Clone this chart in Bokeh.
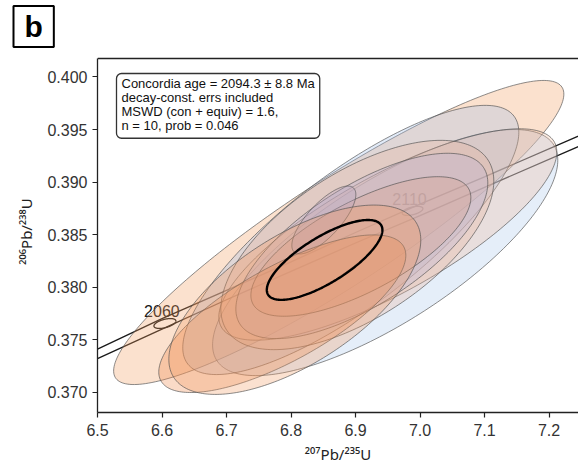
import numpy as np
from bokeh.plotting import figure
from bokeh.models import Range1d, Label, Title, FixedTicker, NumeralTickFormatter
from bokeh.embed import file_html
from bokeh.resources import INLINE
from bokeh.core.properties import value

FONT = "Liberation Sans"
SUP_FONT = "Noto Sans"

# Analyses: centre (207Pb/235U, 206Pb/238U), 2-sigma half-extents and error correlation
ell_x = [6.874, 6.9460, 6.8927, 6.9501, 6.9028, 6.9098, 6.9083, 6.8509, 6.7865, 6.8059]
ell_y = [0.38520, 0.38329, 0.38449, 0.38501, 0.38401, 0.38392, 0.38387, 0.38639, 0.37747, 0.37880]
ell_sx = [0.3490, 0.2676, 0.2605, 0.2620, 0.2116, 0.1953, 0.1705, 0.0496, 0.1915, 0.1953]
ell_sy = [0.01447, 0.01171, 0.01281, 0.01006, 0.00996, 0.00882, 0.00664, 0.00323, 0.00750, 0.00901]
ell_rho = [0.91, 0.75, 0.80, 0.78, 0.61, 0.68, 0.70, 0.75, 0.74, 0.63]
ell_fill = ["#f39a5e", "#a9c6ec", "#9fbde8", "#efbb9c", "#e9b39a", "#b9b3d6",
            "#dba08a", "#b7a3c0", "#ef8545", "#f29a62"]

# Concordia age ellipse
conc_age_x, conc_age_y = 6.8521, 0.38259
conc_age_sx, conc_age_sy, conc_age_rho = 0.0896, 0.00380, 0.75

# Concordia band (decay-constant errors), upper and lower bounds
band_x = [6.50, 6.60, 6.70, 6.80, 6.90, 7.00, 7.10, 7.25]
band_upper = [0.3741, 0.3770, 0.3797, 0.3824, 0.3852, 0.3879, 0.3905, 0.3945]
band_lower = [0.3732, 0.3760, 0.3788, 0.3815, 0.3842, 0.3868, 0.3895, 0.3935]

# Age markers on the concordia (Ma)
age_labels = ["2060", "2110"]
age_x = [6.6045, 6.9884]
age_y = [0.37654, 0.38726]
age_sx = [0.017, 0.016]
age_sy = [0.00047, 0.00043]
age_rho = [0.5, 0.5]

x_ticks = [6.5, 6.6, 6.7, 6.8, 6.9, 7.0, 7.1, 7.2]
y_ticks = [0.370, 0.375, 0.380, 0.385, 0.390, 0.395, 0.400]

# axis limits of the drawn box
x_lo, x_hi = 6.5, 7.2457
y_lo, y_hi = 0.36807, 0.40176

info_text = ("Concordia age = 2094.3 \u00b1 8.8 Ma\n"
             "decay-const. errs included\n"
             "MSWD (con + equiv) = 1.6,\n"
             " n = 10, prob = 0.046")


def ellipse_outline(cx, cy, sx, sy, rho, n=240):
    t = np.linspace(0, 2 * np.pi, n)
    xs = cx + sx * np.cos(t)
    ys = cy + sy * (rho * np.cos(t) + np.sqrt(1 - rho ** 2) * np.sin(t))
    return xs, ys


# headroom above the box so its top edge is drawn well inside the frame
y_pad = 0.00076
p = figure(width=578, height=466,
           x_range=Range1d(x_lo, x_hi), y_range=Range1d(y_lo, y_hi + y_pad),
           output_backend="svg", toolbar_location=None,
           min_border_left=97, min_border_right=0, min_border_top=50, min_border_bottom=53)
p.background_fill_color = "white"
p.border_fill_color = "white"
p.outline_line_color = None
p.xgrid.visible = False
p.ygrid.visible = False

for ax in (p.xaxis[0], p.yaxis[0]):
    ax.axis_line_color = "#222222"
    ax.axis_line_width = 1.3
    ax.major_tick_line_color = "#222222"
    ax.major_tick_line_width = 1.2
    ax.major_tick_out = 5
    ax.major_tick_in = 0
    ax.minor_tick_line_color = None
    ax.major_label_text_font = FONT
    ax.major_label_text_font_size = "16px"
    ax.major_label_text_color = "#333333"
    ax.axis_label_text_font = SUP_FONT
    ax.axis_label_text_font_size = "15px"
    ax.axis_label_text_font_style = "normal"
    ax.axis_label_text_color = "#222222"

p.yaxis.bounds = (y_lo, y_hi)
p.xaxis.ticker = FixedTicker(ticks=x_ticks)
p.yaxis.ticker = FixedTicker(ticks=y_ticks)
p.xaxis.formatter = NumeralTickFormatter(format="0.0")
p.yaxis.formatter = NumeralTickFormatter(format="0.000")
p.xaxis.major_label_standoff = 6
p.yaxis.major_label_standoff = 5
p.xaxis.axis_label = "\u00b2\u2070\u2077Pb/\u00b2\u00b3\u2075U"
p.yaxis.axis_label = "\u00b2\u2070\u2076Pb/\u00b2\u00b3\u2078U"
p.xaxis.axis_label_standoff = 5
p.yaxis.axis_label_standoff = 8

# top edge of the box
p.line([x_lo, x_hi], [y_hi, y_hi], line_color="#222222", line_width=1.3)

# concordia band and age markers sit beneath the analyses
p.line(band_x, band_upper, line_color="#1a1a1a", line_width=1.3)
p.line(band_x, band_lower, line_color="#1a1a1a", line_width=1.3)
for i in range(len(age_x)):
    xs, ys = ellipse_outline(age_x[i], age_y[i], age_sx[i], age_sy[i], age_rho[i])
    p.line(xs, ys, line_color="#1a1a1a", line_width=1.3)
p.text(x=age_x, y=age_y, text=age_labels, text_font=value(FONT), text_font_size="16px",
       text_color="#1a1a1a", text_align="center", text_baseline="bottom",
       x_offset=-3, y_offset=-6)

# analysis ellipses
pxs, pys = [], []
for i in range(len(ell_x)):
    xs, ys = ellipse_outline(ell_x[i], ell_y[i], ell_sx[i], ell_sy[i], ell_rho[i])
    pxs.append(xs)
    pys.append(ys)
p.patches(pxs, pys, fill_color=ell_fill, fill_alpha=0.3,
          line_color="#505050", line_alpha=0.65, line_width=1.0)

# concordia age ellipse
cxs, cys = ellipse_outline(conc_age_x, conc_age_y, conc_age_sx, conc_age_sy, conc_age_rho)
p.line(cxs, cys, line_color="black", line_width=2.4)

# result box
p.add_layout(Label(x=19, y=339, x_units="screen", y_units="screen", text=info_text,
                   text_font=FONT, text_font_size="13px", text_color="#111111",
                   text_align="left", text_baseline="top", text_line_height=0.95,
                   background_fill_color="white", border_line_color="#333333",
                   border_line_width=1.3, border_radius=5,
                   padding=dict(left=5, right=5, top=2, bottom=5)))

# panel letter
p.add_layout(Title(text="b", align="left", offset=-84, standoff=7,
                   text_font=FONT, text_font_size="30px", text_font_style="bold",
                   text_color="black", border_line_color="black", border_line_width=2,
                   padding=dict(left=11, right=11, top=4, bottom=4)), "above")

open("out.html", "w").write(file_html(p, INLINE))
